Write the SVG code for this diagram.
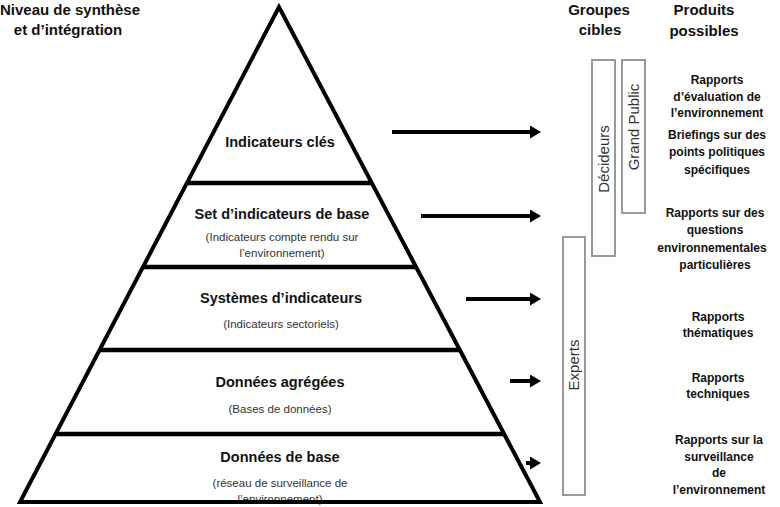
<svg xmlns="http://www.w3.org/2000/svg" width="780" height="507" viewBox="0 0 780 507">
<style>
.hd{font-family:"Liberation Sans",Arial,sans-serif;font-weight:bold;font-size:15px;fill:#111;text-anchor:middle}
.lt{font-family:"Liberation Sans",Arial,sans-serif;font-weight:bold;font-size:14.5px;fill:#111;text-anchor:middle}
.st{font-family:"Liberation Sans",Arial,sans-serif;font-size:11.5px;fill:#333;text-anchor:middle}
.pr{font-family:"Liberation Sans",Arial,sans-serif;font-weight:bold;font-size:12px;fill:#111;text-anchor:middle}
.gl{font-family:"Liberation Sans",Arial,sans-serif;font-size:15px;fill:#333;text-anchor:middle}
.box{fill:none;stroke:#999;stroke-width:2}
.div{stroke:#000;stroke-width:4.5}
.arr{stroke:#000;stroke-width:4;fill:none;marker-end:url(#ah)}
</style>
<defs>
<marker id="ah" markerUnits="userSpaceOnUse" markerWidth="12" markerHeight="14" refX="1" refY="6.5" orient="auto">
<path d="M0,0 L11,6.5 L0,13 Z" fill="#000"/>
</marker>
</defs>
<rect width="780" height="507" fill="#fff"/>
<g id="headers">
<text class="hd" x="70" y="15">Niveau de synthèse</text>
<text class="hd" x="68" y="35">et d’intégration</text>
<text class="hd" x="599" y="15">Groupes</text>
<text class="hd" x="600" y="35">cibles</text>
<text class="hd" x="704" y="15">Produits</text>
<text class="hd" x="704" y="36">possibles</text>
</g>
<g id="pyramid">
<g id="level-1">
<text class="lt" x="280" y="147">Indicateurs clés</text>
</g>
<g id="level-2">
<text class="lt" x="282" y="219">Set d’indicateurs de base</text>
<text class="st" x="282" y="241">(Indicateurs compte rendu sur</text>
<text class="st" x="282" y="257">l’environnement)</text>
</g>
<g id="level-3">
<text class="lt" x="281" y="303">Systèmes d’indicateurs</text>
<text class="st" x="281" y="328">(Indicateurs sectoriels)</text>
</g>
<g id="level-4">
<text class="lt" x="280" y="387">Données agrégées</text>
<text class="st" x="280" y="413">(Bases de données)</text>
</g>
<g id="level-5">
<text class="lt" x="280" y="462">Données de base</text>
<text class="st" x="280" y="487">(réseau de surveillance de</text>
<text class="st" x="280" y="503">l’environnement)</text>
</g>
<polygon points="279,7 20,502 540,502" fill="none" stroke="#000" stroke-width="4" stroke-linejoin="miter"/>
<line class="div" x1="187" y1="183" x2="372" y2="183"/>
<line class="div" x1="143" y1="267" x2="416" y2="267"/>
<line class="div" x1="100" y1="350" x2="460" y2="350"/>
<line class="div" x1="57" y1="434" x2="504" y2="434"/>
</g>
<g id="groups">
<g id="decideurs">
<rect class="box" x="592" y="60" width="23" height="196"/>
<text class="gl" transform="translate(609,159) rotate(-90)">Décideurs</text>
</g>
<g id="grand-public">
<rect class="box" x="622" y="60" width="23" height="153"/>
<text class="gl" transform="translate(639,127) rotate(-90)">Grand Public</text>
</g>
<g id="experts">
<rect class="box" x="563" y="237" width="22" height="258"/>
<text class="gl" transform="translate(579,365) rotate(-90)">Experts</text>
</g>
</g>
<g id="products">
<g id="p1">
<text class="pr" x="717" y="84">Rapports</text>
<text class="pr" x="717" y="101">d’évaluation de</text>
<text class="pr" x="717" y="117">l’environnement</text>
</g>
<g id="p2">
<text class="pr" x="717" y="139">Briefings sur des</text>
<text class="pr" x="717" y="156">points politiques</text>
<text class="pr" x="717" y="174">spécifiques</text>
</g>
<g id="p3">
<text class="pr" x="715" y="217">Rapports sur des</text>
<text class="pr" x="715" y="234">questions</text>
<text class="pr" x="712" y="252">environnementales</text>
<text class="pr" x="715" y="269">particulières</text>
</g>
<g id="p4">
<text class="pr" x="718" y="321">Rapports</text>
<text class="pr" x="718" y="337">thématiques</text>
</g>
<g id="p5">
<text class="pr" x="718" y="382">Rapports</text>
<text class="pr" x="718" y="398">techniques</text>
</g>
<g id="p6">
<text class="pr" x="719" y="444">Rapports sur la</text>
<text class="pr" x="719" y="461">surveillance</text>
<text class="pr" x="719" y="477">de</text>
<text class="pr" x="719" y="494">l’environnement</text>
</g>
</g>
<g id="connectors">
<line class="arr" x1="392" y1="132" x2="531" y2="132"/>
<line class="arr" x1="421" y1="216" x2="531" y2="216"/>
<line class="arr" x1="466" y1="299" x2="531" y2="299"/>
<line class="arr" x1="510" y1="381" x2="531" y2="381"/>
<line class="arr" x1="526" y1="463" x2="531" y2="463"/>
</g>
</svg>
